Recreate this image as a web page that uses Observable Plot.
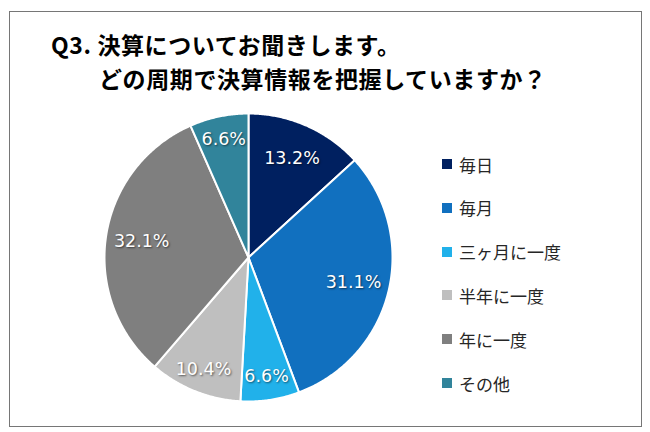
<!DOCTYPE html>
<html><head><meta charset="utf-8">
<script src="https://cdn.jsdelivr.net/npm/d3@7"></script>
<script src="https://cdn.jsdelivr.net/npm/@observablehq/plot@0.6"></script>
<style>
body{margin:0;background:#fff;width:650px;height:432px;position:relative;overflow:hidden;font-family:"Noto Sans CJK JP",sans-serif}
#frame{position:absolute;left:9px;top:11px;width:633px;height:416px;border:1.5px solid #767676;box-sizing:border-box}
.t{position:absolute;font-weight:700;font-size:23px;letter-spacing:0.6px;color:#000;white-space:nowrap;line-height:23px}
#legend{position:absolute;left:442px;top:0}
.row{position:absolute;left:0;height:24px;display:flex;align-items:center;font-size:17px;color:#262626;white-space:nowrap}
.sw{width:10px;height:10px;margin-right:7px;flex:none}
#chart{position:absolute;left:98px;top:107px}
#chart text{text-shadow:1px 1px 2px rgba(0,0,0,0.55)}
</style></head>
<body>
<div id="frame"></div>
<div class="t" id="t1" style="left:51px;top:33px"></div>
<div class="t" id="t2" style="left:99px;top:67px"></div>
<div id="chart"></div>
<div id="legend"></div>
<script>
const titleLines = ["Q3. 決算についてお聞きします。", "どの周期で決算情報を把握していますか？"];
const categories = ["毎日", "毎月", "三ヶ月に一度", "半年に一度", "年に一度", "その他"];
const values = [13.2, 31.1, 6.6, 10.4, 32.1, 6.6];
const colors = ["#002060", "#1170BF", "#21B1EA", "#BFBFBF", "#7F7F7F", "#31849B"];

document.getElementById("t1").textContent = titleLines[0];
document.getElementById("t2").textContent = titleLines[1];

const total = d3.sum(values);
const slices = [];
const labelData = [];
let acc = 0;
values.forEach((v, i) => {
  const a0 = acc / total * 2 * Math.PI;
  acc += v;
  const a1 = acc / total * 2 * Math.PI;
  const name = categories[i];
  slices.push({name, x: 0, y: 0});
  const n = Math.max(2, Math.ceil((a1 - a0) / (Math.PI / 360)));
  for (let k = 0; k <= n; k++) {
    const a = a0 + (a1 - a0) * k / n;
    slices.push({name, x: Math.sin(a), y: Math.cos(a)});
  }
  const am = (a0 + a1) / 2;
  const r = v < 12 ? 0.835 : 0.75;
  labelData.push({name, x: r * Math.sin(am), y: r * Math.cos(am), text: v.toFixed(1) + "%"});
});

const D = 150 / 144;
const chart = Plot.plot({
  width: 300, height: 300,
  margin: 0,
  x: {domain: [-D, D], axis: null},
  y: {domain: [-D, D], axis: null},
  color: {domain: categories, range: colors},
  marks: [
    Plot.line(slices, {x: "x", y: "y", z: "name", fill: "name", stroke: "white", strokeWidth: 2, strokeLinejoin: "round", curve: "linear-closed"}),
    Plot.text(labelData, {x: "x", y: "y", text: "text", fill: "white", fontSize: 17.5, fontFamily: "DejaVu Sans"})
  ]
});
document.getElementById("chart").appendChild(chart);

const legend = document.getElementById("legend");
categories.forEach((c, i) => {
  const row = document.createElement("div");
  row.className = "row";
  row.style.top = (164 + i * 43.8 - 12) + "px";
  const sw = document.createElement("span");
  sw.className = "sw";
  sw.style.background = colors[i];
  const tx = document.createElement("span");
  tx.textContent = c;
  row.appendChild(sw);
  row.appendChild(tx);
  legend.appendChild(row);
});
</script>
</body></html>
